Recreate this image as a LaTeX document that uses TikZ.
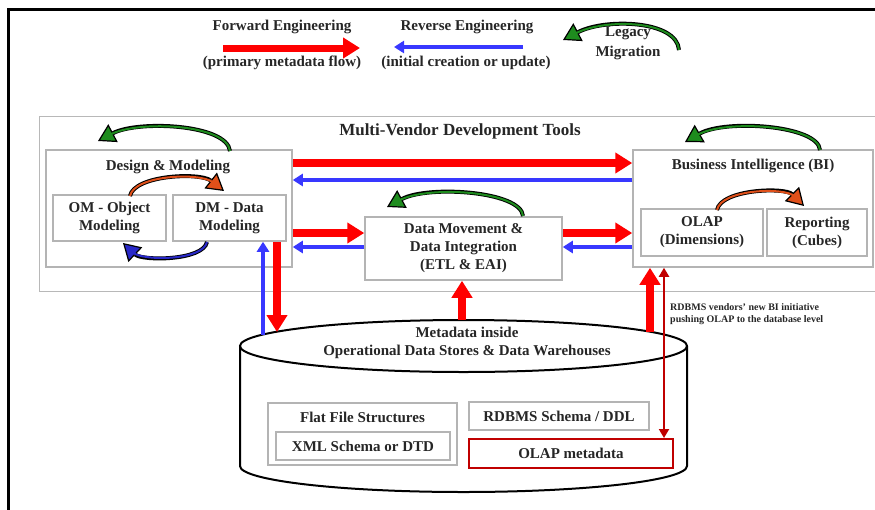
\documentclass[tikz,border=0pt]{standalone}
\usepackage{fontspec}
\setmainfont{Liberation Serif}
\usetikzlibrary{arrows.meta,shadows}
\definecolor{fwdred}{HTML}{FF0000}
\definecolor{revblue}{HTML}{3838FF}
\definecolor{lgreen}{HTML}{1E8C1E}
\definecolor{orng}{HTML}{E0501A}
\definecolor{bluf}{HTML}{2828C8}
\definecolor{dred}{HTML}{C00000}
\definecolor{boxgray}{HTML}{B4B4B4}
\begin{document}
\begin{tikzpicture}[x=1pt,y=-1pt,
  every node/.style={font=\fontsize{15}{18}\selectfont\bfseries, text=black!85, align=center, inner sep=0pt},
  box/.style={draw=boxgray, line width=1.5pt, fill=white,
    drop shadow={shadow xshift=1.2pt, shadow yshift=-1.2pt, fill=black!40, opacity=1}},
  fwd/.style={draw=fwdred, line width=8pt, -{Triangle[length=17pt,width=20pt]}},
  rev/.style={draw=revblue, line width=3.5pt, -{Triangle[length=10pt,width=12pt]}},
  olaplink/.style={draw=dred, line width=2pt, {Triangle[length=9pt,width=10pt]}-{Triangle[length=9pt,width=10pt]}},
  curv/.style={draw=black, line width=4pt, -{Triangle[length=17pt,width=20pt,fill=#1,line width=1.2pt]},
    postaction={draw=#1, line width=2pt, -, shorten >=14pt}}
]
\useasboundingbox (0,0) rectangle (875,509);
\fill[white] (0,0) rectangle (875,509);
\clip (0,0) rectangle (875,509);

% outer frame
\draw[line width=3pt] (8.5,520) -- (8.5,9.5) -- (890,9.5);

% legend
\node (fwdt) at (282,27) {Forward Engineering};
\node (fwds) at (282,63) {(primary metadata flow)};
\coordinate (fwdA) at (223,48);
\coordinate (fwdB) at (360,48);
\draw[fwd, line width=7pt] (fwdA) -- (fwdB);
\node (revt) at (467,27) {Reverse Engineering};
\node (revs) at (466,63) {(initial creation or update)};
\coordinate (revA) at (523,47);
\coordinate (revB) at (394,47);
\draw[rev] (revA) -- (revB);
\coordinate (lgA) at (679,50);
\coordinate (lgB) at (563,40);
\draw[curv=lgreen] (lgA) .. controls (677,20) and (605,18) .. (lgB);
\node[font=\fontsize{15}{20}\selectfont\bfseries] (lgt) at (628,43) {Legacy\\Migration};

% multi-vendor frame
\node[box, draw=black!28, minimum width=860pt, minimum height=175pt, anchor=north west] (mvt) at (38.5,115.5) {};
\node[font=\fontsize{17}{20}\selectfont\bfseries] (mvtt) at (460,131) {Multi-Vendor Development Tools};

% design & modeling
\node[box, minimum width=246pt, minimum height=117pt] (design) at (169,208.5) {};
\node (designt) at (168,167) {Design \& Modeling};
\node[box, minimum width=113pt, minimum height=46pt] (om) at (109.5,218) {OM - Object\\Modeling};
\node[box, minimum width=113pt, minimum height=46pt] (dm) at (229.5,218) {DM - Data\\Modeling};

% data movement
\node[box, minimum width=197pt, minimum height=63pt] (dmi) at (463.5,248.5) {Data Movement \&\\Data Integration\\(ETL \& EAI)};

% business intelligence
\node[box, minimum width=240pt, minimum height=117pt] (bi) at (753,208.5) {};
\node (bit) at (753,166) {Business Intelligence (BI)};
\node[box, minimum width=122pt, minimum height=47pt] (olap) at (702,232.5) {OLAP\\(Dimensions)};
\node[box, minimum width=100pt, minimum height=47pt] (rep) at (817,232.5) {Reporting\\(Cubes)};

% cylinder
\draw[line width=2pt, fill=white] (240,346) -- (240,466)
  arc[start angle=180, end angle=360, x radius=223.5pt, y radius=26pt] -- (687,346);
\draw[line width=2pt, fill=white] (463.5,346) ellipse[x radius=223.5pt, y radius=26pt];
\node (cylt) at (467,343) {Metadata inside\\Operational Data Stores \& Data Warehouses};
\node[box, minimum width=189pt, minimum height=62pt] (flat) at (362.5,434) {};
\node (flatt) at (362.5,417) {Flat File Structures};
\node[box, minimum width=174pt, minimum height=28pt] (xml) at (363,446) {XML Schema or DTD};
\node[box, minimum width=180pt, minimum height=28pt] (rdbms) at (559,416) {RDBMS Schema / DDL};
\node[draw=dred, line width=2pt, fill=white, minimum width=204pt, minimum height=29pt] (olapmd) at (571,453.5) {OLAP metadata};

% annotation
\node[font=\fontsize{10}{12}\selectfont\bfseries, align=left, anchor=north west] (note) at (670,303) {RDBMS vendors' new BI initiative\\pushing OLAP to the database level};

% horizontal connectors
\coordinate (yA) at (0,163);
\coordinate (yB) at (0,180);
\coordinate (yC) at (0,233);
\coordinate (yD) at (0,247);
\draw[fwd] (design.east |- yA) -- (bi.west |- yA);
\draw[rev] (bi.west |- yB) -- (design.east |- yB);
\draw[fwd] (design.east |- yC) -- (dmi.west |- yC);
\draw[rev] (dmi.west |- yD) -- (design.east |- yD);
\draw[fwd] (dmi.east |- yC) -- (bi.west |- yC);
\draw[rev] (bi.west |- yD) -- (dmi.east |- yD);

% vertical connectors
\coordinate (cylBlue) at (263,335);
\coordinate (cylRed1) at (277,332);
\coordinate (cylRed2) at (462,320);
\coordinate (cylRed3) at (650,332);
\coordinate (drx) at (664,0);
\draw[rev] (cylBlue) -- (dm.south -| cylBlue);
\draw[fwd] (dm.south -| cylRed1) -- (cylRed1);
\draw[fwd] (cylRed2) -- (dmi.south -| cylRed2);
\draw[fwd] (cylRed3) -- (bi.south -| cylRed3);
\draw[olaplink] (bi.south -| drx) -- (olapmd.north -| drx);

% curved cycle arrows
\draw[curv=lgreen] (230,151) .. controls (227,124) and (138,120) .. (98,141);
\draw[curv=lgreen] (523,216) .. controls (521,191) and (428,185) .. (387,207);
\draw[curv=lgreen] (820,150) .. controls (818,125) and (725,119) .. (685,142);
\draw[curv=orng] (130,196) .. controls (134,175) and (200,172) .. (224,191);
\draw[curv=orng] (717,210) .. controls (721,189) and (785,187) .. (804,206);
\draw[curv=bluf] (207,242) .. controls (203,261) and (142,261) .. (123,243);
\end{tikzpicture}
\end{document}
